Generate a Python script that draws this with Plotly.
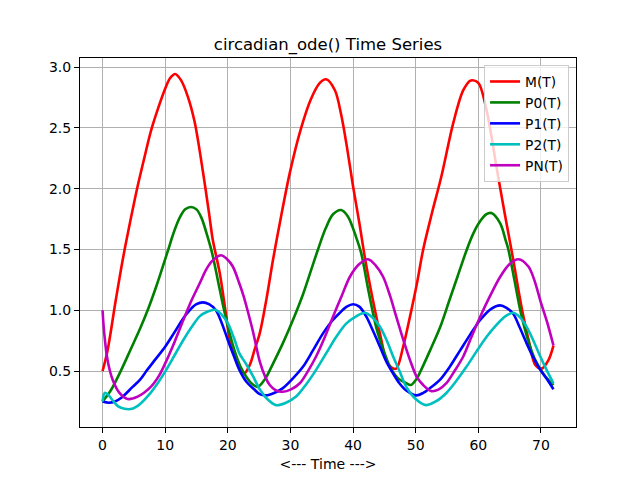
import plotly.graph_objects as go

# values
m_t = [0, 0.8, 2.1, 3.2, 4.5, 5.6, 6.7, 7.7, 8.8, 9.9, 10.8, 11.6, 12.5, 13.6, 14.7, 16.0, 17.0, 17.6,
       18.7, 19.7, 20.3, 21.3, 21.85, 22.6, 23.5, 24.3, 25.1, 26.2, 27.2, 28.5, 29.9, 31.6, 33.3, 34.7,
       35.7, 37.1, 38.1, 39.0, 40.0, 41.0, 41.9, 42.8, 43.7, 44.5, 45.3, 46.1, 46.9, 48.0, 49.1, 50.2,
       51.2, 52.6, 54.1, 56.0, 57.6, 58.8, 60.0, 61.3, 62.9, 64.2, 65.6, 66.4, 67.2, 68.1, 69.1, 70.1,
       71.2, 72.0]
m_v = [0.50, 0.67, 1.08, 1.41, 1.75, 2.02, 2.26, 2.47, 2.65, 2.81, 2.91, 2.944, 2.895, 2.76, 2.55, 2.15,
       1.80, 1.58, 1.31, 0.97, 0.76, 0.59, 0.53, 0.48, 0.55, 0.68, 0.81, 1.10, 1.41, 1.77, 2.13, 2.48,
       2.74, 2.87, 2.90, 2.81, 2.61, 2.35, 2.02, 1.72, 1.43, 1.18, 0.95, 0.76, 0.59, 0.53, 0.52, 0.70,
       0.95, 1.22, 1.50, 1.80, 2.10, 2.54, 2.81, 2.89, 2.87, 2.65, 2.18, 1.80, 1.41, 1.17, 0.95, 0.74,
       0.55, 0.52, 0.59, 0.71]

p0_t = [0, 1.3, 2.9, 4.5, 6.0, 7.2, 8.6, 10.5, 11.3, 12.3, 13.2, 14.1, 15.0, 15.8, 16.8, 17.5, 18.4,
        19.2, 20.0, 21.0, 22.0, 23.0, 24.0, 24.8, 25.9, 27.3, 28.8, 30.4, 32.0, 33.3, 34.4, 35.6, 36.8,
        38.1, 39.2, 40.5, 41.3, 42.5, 43.7, 44.8, 45.9, 47.2, 48.5, 49.2, 50.2, 50.7, 52.3, 53.9, 55.3,
        56.7, 58.1, 59.1, 60.0, 61.3, 62.1, 63.5, 64.4, 64.8, 65.8, 66.7, 67.9, 69.1, 70.5, 72.0]
p0_v = [0.25, 0.34, 0.50, 0.68, 0.85, 1.00, 1.20, 1.50, 1.63, 1.76, 1.83, 1.85, 1.83, 1.76, 1.60, 1.47,
        1.25, 1.05, 0.87, 0.68, 0.54, 0.45, 0.39, 0.37, 0.43, 0.57, 0.73, 0.92, 1.13, 1.33, 1.50, 1.67,
        1.79, 1.825, 1.77, 1.60, 1.47, 1.15, 0.86, 0.68, 0.535, 0.44, 0.40, 0.385, 0.44, 0.49, 0.67,
        0.86, 1.07, 1.28, 1.49, 1.62, 1.71, 1.79, 1.80, 1.715, 1.57, 1.50, 1.24, 1.00, 0.76, 0.59,
        0.47, 0.385]

p1_t = [0, 1.0, 2.0, 3.0, 4.8, 6.0, 7.0, 8.5, 10.0, 11.5, 12.9, 13.9, 15.0, 16.0, 17.0, 18.1, 19.0,
        20.0, 21.0, 21.85, 23.0, 24.2, 25.1, 26.1, 27.4, 28.8, 30.4, 32.0, 33.6, 35.2, 36.6, 37.9, 39.0,
        40.0, 41.0, 42.1, 43.2, 44.3, 45.3, 46.4, 47.4, 48.5, 50.1, 51.2, 52.3, 53.9, 55.5, 57.1, 58.7,
        60.3, 62.0, 63.5, 64.5, 65.6, 66.6, 67.7, 68.8, 69.9, 71.0, 72.0]
p1_v = [0.25, 0.24, 0.25, 0.28, 0.37, 0.43, 0.50, 0.60, 0.70, 0.82, 0.935, 1.00, 1.05, 1.065, 1.05,
        1.00, 0.90, 0.756, 0.62, 0.51, 0.41, 0.35, 0.31, 0.30, 0.32, 0.36, 0.44, 0.535, 0.67, 0.81, 0.91,
        0.98, 1.03, 1.05, 1.03, 0.95, 0.83, 0.70, 0.58, 0.48, 0.40, 0.34, 0.30, 0.32, 0.36, 0.43, 0.54,
        0.67, 0.80, 0.92, 1.01, 1.04, 1.02, 0.97, 0.86, 0.73, 0.61, 0.51, 0.43, 0.35]

p2_t = [0, 0.35, 0.8, 1.6, 2.5, 3.5, 4.7, 6.0, 7.5, 8.8, 10.0, 11.5, 12.9, 14.2, 15.5, 16.8, 18.0, 19.0,
        20.0, 21.0, 21.85, 22.9, 24.0, 25.1, 26.3, 27.7, 29.3, 30.9, 32.5, 34.1, 35.7, 37.3, 38.9, 40.5,
        41.9, 43.1, 44.3, 45.4, 46.4, 47.5, 48.5, 50.0, 51.6, 53.2, 54.9, 56.5, 58.1, 59.7, 61.3, 62.9,
        64.3, 65.6, 66.7, 67.7, 68.8, 69.9, 71.0, 72.0]
p2_v = [0.25, 0.32, 0.31, 0.26, 0.21, 0.19, 0.19, 0.23, 0.31, 0.40, 0.495, 0.63, 0.756, 0.86, 0.95,
        0.99, 1.004, 0.965, 0.894, 0.77, 0.646, 0.56, 0.46, 0.35, 0.27, 0.22, 0.24, 0.29, 0.39, 0.51,
        0.645, 0.78, 0.89, 0.95, 0.98, 0.94, 0.865, 0.75, 0.62, 0.49, 0.37, 0.27, 0.22, 0.25, 0.32, 0.42,
        0.535, 0.66, 0.78, 0.88, 0.95, 0.98, 0.94, 0.865, 0.75, 0.62, 0.50, 0.40]

pn_t = [0, 0.27, 0.8, 1.6, 2.7, 4.0, 5.6, 7.7, 9.0, 10.0, 11.5, 12.9, 14.2, 15.5, 16.5, 17.4, 18.9,
        19.9, 20.8, 21.85, 22.5, 23.2, 24.0, 25.1, 26.0, 26.7, 27.7, 28.8, 30.1, 31.5, 32.8, 34.1, 35.5,
        36.8, 38.2, 39.5, 41.0, 42.4, 43.6, 44.8, 45.9, 46.9, 48.0, 49.1, 50.2, 51.2, 52.5, 53.7, 54.9,
        56.2, 57.6, 58.9, 60.3, 61.9, 63.5, 65.0, 66.4, 68.0, 69.0, 69.9, 71.0, 72.0]
pn_v = [1.0, 0.81, 0.59, 0.43, 0.32, 0.27, 0.29, 0.37, 0.46, 0.563, 0.74, 0.92, 1.08, 1.22, 1.33, 1.40,
        1.453, 1.42, 1.36, 1.22, 1.12, 0.99, 0.83, 0.58, 0.45, 0.385, 0.34, 0.33, 0.35, 0.40, 0.50, 0.62,
        0.78, 0.947, 1.12, 1.276, 1.38, 1.42, 1.37, 1.276, 1.12, 0.947, 0.76, 0.59, 0.45, 0.385, 0.335,
        0.35, 0.40, 0.50, 0.62, 0.78, 0.947, 1.12, 1.276, 1.38, 1.42, 1.36, 1.24, 1.08, 0.90, 0.71]

series = [
    ("M(T)", m_t, m_v, "#ff0000"),
    ("P0(T)", p0_t, p0_v, "#008000"),
    ("P1(T)", p1_t, p1_v, "#0000ff"),
    ("P2(T)", p2_t, p2_v, "#00bfbf"),
    ("PN(T)", pn_t, pn_v, "#bf00bf"),
]

fig = go.Figure()
for name, t, v, color in series:
    fig.add_trace(go.Scatter(x=t, y=v, name=name, mode="lines",
                             line=dict(color=color, width=2.6, shape="spline", smoothing=0.9)))

axis_style = dict(showline=True, linecolor="black", linewidth=1, mirror=True,
                  showgrid=True, gridcolor="#b0b0b0", gridwidth=1, zeroline=False,
                  ticks="outside", ticklen=5, tickcolor="black",
                  tickfont=dict(family="DejaVu Sans", size=14, color="black"))

# the page body adds an 8px margin, so the figure is laid out 8px up and left
fig.update_layout(
    width=640, height=480,
    margin=dict(l=72, r=72, t=50, b=61),
    paper_bgcolor="white", plot_bgcolor="white",
    font=dict(family="DejaVu Sans", color="black"),
    title=dict(text="circadian_ode() Time Series", x=0.5, xref="paper", y=0.925, yanchor="middle",
               font=dict(family="DejaVu Sans", size=16.5, color="black")),
    xaxis=dict(range=[-3.6, 75.6], tickvals=[0, 10, 20, 30, 40, 50, 60, 70],
               title=dict(text="<--- Time --->", standoff=7,
                          font=dict(family="DejaVu Sans", size=14, color="black")),
               **axis_style),
    yaxis=dict(range=[0.04, 3.075], tickvals=[0.5, 1.0, 1.5, 2.0, 2.5, 3.0], tickformat=".1f",
               **axis_style),
    legend=dict(x=0.986, y=0.981, xanchor="right", yanchor="top",
                bgcolor="rgba(255,255,255,0.8)", bordercolor="#cccccc", borderwidth=1,
                font=dict(family="DejaVu Sans", size=13.8, color="black"),
                itemwidth=30, tracegroupgap=0),
    showlegend=True,
)

fig.write_html("out.html")
